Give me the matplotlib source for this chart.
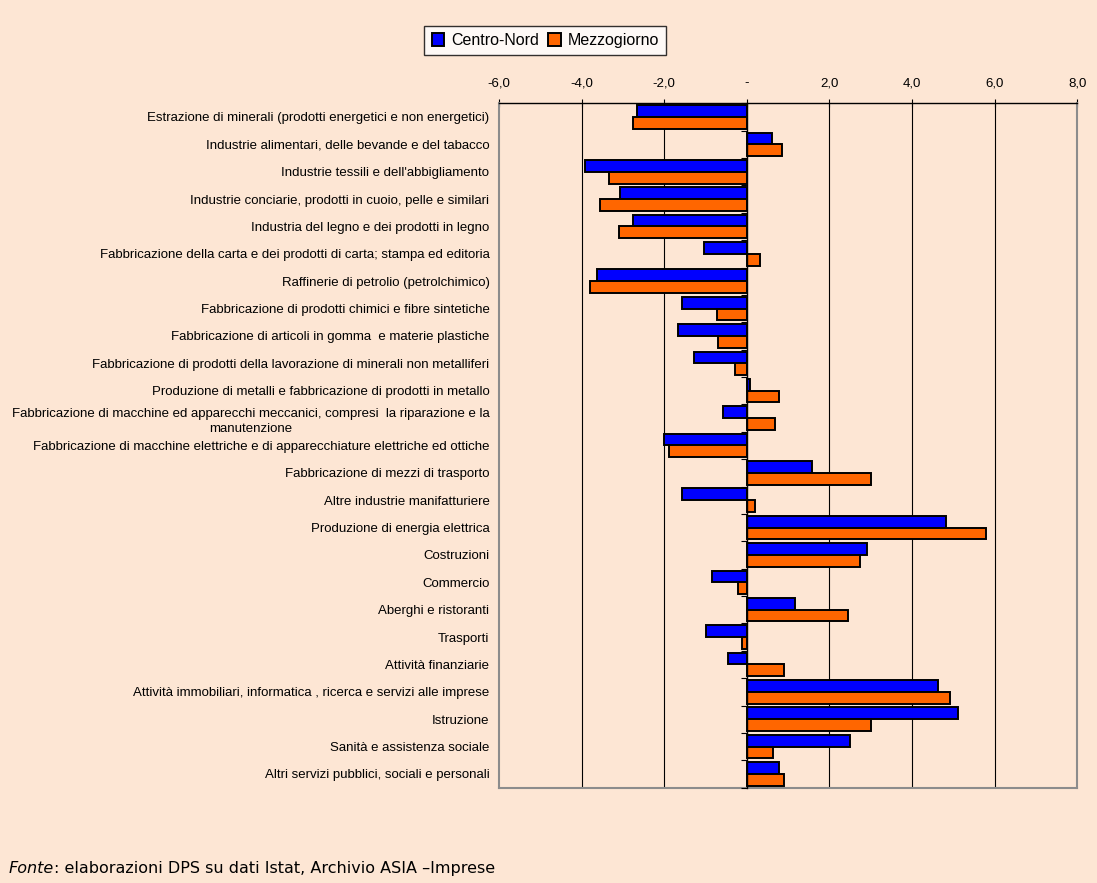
import matplotlib
matplotlib.use("Agg")
import matplotlib.pyplot as plt
import numpy as np

plt.rcParams['font.family'] = ['Liberation Sans', 'DejaVu Sans']

# settori (dall'alto verso il basso)
settori = [
    "Estrazione di minerali (prodotti energetici e non energetici)",
    "Industrie alimentari, delle bevande e del tabacco",
    "Industrie tessili e dell'abbigliamento",
    "Industrie conciarie, prodotti in cuoio, pelle e similari",
    "Industria del legno e dei prodotti in legno",
    "Fabbricazione della carta e dei prodotti di carta; stampa ed editoria",
    "Raffinerie di petrolio (petrolchimico)",
    "Fabbricazione di prodotti chimici e fibre sintetiche",
    "Fabbricazione di articoli in gomma  e materie plastiche",
    "Fabbricazione di prodotti della lavorazione di minerali non metalliferi",
    "Produzione di metalli e fabbricazione di prodotti in metallo",
    "Fabbricazione di macchine ed apparecchi meccanici, compresi  la riparazione e la\nmanutenzione",
    "Fabbricazione di macchine elettriche e di apparecchiature elettriche ed ottiche",
    "Fabbricazione di mezzi di trasporto",
    "Altre industrie manifatturiere",
    "Produzione di energia elettrica",
    "Costruzioni",
    "Commercio",
    "Aberghi e ristoranti",
    "Trasporti",
    "Attività finanziarie",
    "Attività immobiliari, informatica , ricerca e servizi alle imprese",
    "Istruzione",
    "Sanità e assistenza sociale",
    "Altri servizi pubblici, sociali e personali",
]

centro_nord = [-2.67, 0.61, -3.91, -3.07, -2.75, -1.05, -3.63, -1.58, -1.66, -1.29,
               0.08, -0.57, -2.01, 1.57, -1.58, 4.82, 2.91, -0.85, 1.17, -0.98,
               -0.46, 4.62, 5.11, 2.50, 0.77]
mezzogiorno = [-2.75, 0.84, -3.34, -3.55, -3.10, 0.32, -3.79, -0.73, -0.69, -0.29,
               0.77, 0.68, -1.89, 3.01, 0.20, 5.80, 2.73, -0.21, 2.46, -0.12,
               0.89, 4.91, 3.01, 0.64, 0.89]

xticks = [-6, -4, -2, 0, 2, 4, 6, 8]
xticklabels = ["-6,0", "-4,0", "-2,0", "-", "2,0", "4,0", "6,0", "8,0"]

bg = '#FDE6D4'
fig = plt.figure(figsize=(10.97, 8.83), dpi=100, facecolor=bg)
ax = fig.add_axes([0.455, 0.108, 0.527, 0.775], facecolor=bg)

y = np.arange(len(settori))
h = 0.43
ax.barh(y - h / 2, centro_nord, height=h, color='#0000FF', edgecolor='black',
        linewidth=1.4, label='Centro-Nord', zorder=3)
ax.barh(y + h / 2, mezzogiorno, height=h, color='#FF6600', edgecolor='black',
        linewidth=1.4, label='Mezzogiorno', zorder=3)

ax.set_xlim(-6, 8)
ax.set_ylim(len(settori) - 0.5, -0.5)

ax.xaxis.tick_top()
ax.set_xticks(xticks)
ax.set_xticklabels(xticklabels, fontsize=9.5)
ax.tick_params(axis='x', direction='inout', length=6, width=0.8, pad=7)
for g in xticks[1:-1]:
    if g != 0:
        ax.axvline(g, color='black', linewidth=0.8, zorder=1)

ax.set_yticks(y)
ax.set_yticklabels(settori, fontsize=9.5, multialignment='center', linespacing=1.4)
ax.tick_params(axis='y', length=0, pad=7)

for s in ['left', 'right', 'bottom']:
    ax.spines[s].set_color('#8c8c8c')
    ax.spines[s].set_linewidth(1.5)
ax.spines['top'].set_color('black')
ax.spines['top'].set_linewidth(1.0)

# asse delle categorie sullo zero
ax2 = ax.twinx()
ax2.set_ylim(ax.get_ylim())
ax2.spines['right'].set_position(('data', 0))
ax2.spines['right'].set_color('black')
ax2.spines['right'].set_linewidth(1.0)
for s in ['left', 'top', 'bottom']:
    ax2.spines[s].set_visible(False)
ax2.set_yticks(np.arange(-0.5, len(settori), 1.0))
ax2.tick_params(axis='y', direction='in', length=4, width=0.8, labelright=False)
ax2.set_zorder(4)
ax2.patch.set_visible(False)

leg = fig.legend(loc='center', bbox_to_anchor=(0.497, 0.954), ncol=2,
                 fontsize=11.5, frameon=True, fancybox=False, edgecolor='black',
                 handlelength=0.8, handleheight=0.8, handletextpad=0.4,
                 columnspacing=0.6, borderpad=0.45, borderaxespad=0)
leg.get_frame().set_linewidth(1.0)

t1 = fig.text(0.008, 0.011, "Fonte", fontsize=11.5, style='italic',
              family='DejaVu Sans')
ax.annotate(": elaborazioni DPS su dati Istat, Archivio ASIA \u2013Imprese",
            xy=(1, 0), xycoords=t1, fontsize=11.5, va='bottom', ha='left',
            family='DejaVu Sans', annotation_clip=False)

fig.savefig("out.png", dpi=100, facecolor=bg)
